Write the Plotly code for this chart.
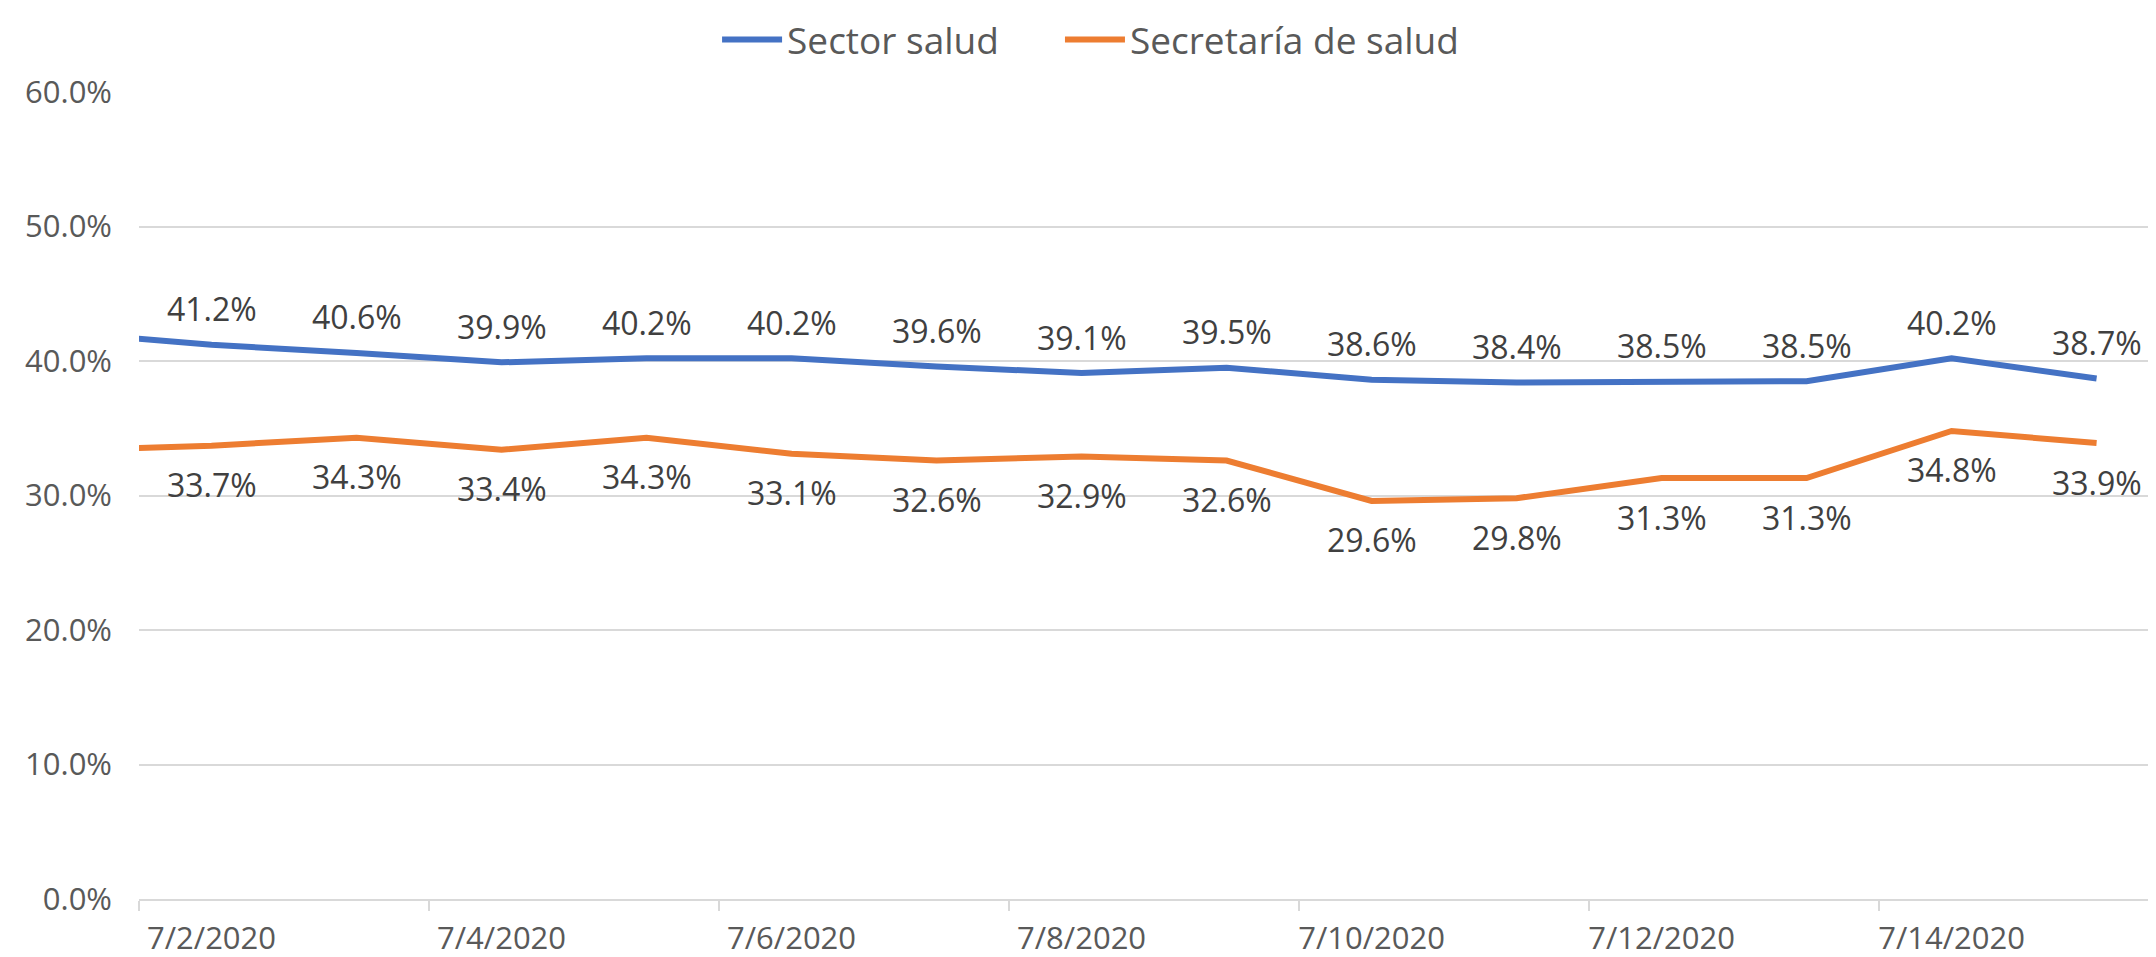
import plotly.graph_objects as go

# Dates (first point 7/1 lies just outside the visible range; its line segment is clipped)
dates = ["2020-07-01", "2020-07-02", "2020-07-03", "2020-07-04", "2020-07-05", "2020-07-06",
         "2020-07-07", "2020-07-08", "2020-07-09", "2020-07-10", "2020-07-11",
         "2020-07-12", "2020-07-13", "2020-07-14", "2020-07-15"]
sector_salud = [0.421, 0.412, 0.406, 0.399, 0.402, 0.402, 0.396, 0.391, 0.395, 0.386, 0.384,
                0.385, 0.385, 0.402, 0.387]
secretaria_salud = [0.3335, 0.337, 0.343, 0.334, 0.343, 0.331, 0.326, 0.329, 0.326, 0.296, 0.298,
                    0.313, 0.313, 0.348, 0.339]

tick_dates = ["2020-07-02", "2020-07-04", "2020-07-06", "2020-07-08", "2020-07-10",
              "2020-07-12", "2020-07-14"]
tick_labels = ["7/2/2020", "7/4/2020", "7/6/2020", "7/8/2020", "7/10/2020",
               "7/12/2020", "7/14/2020"]
boundary_ticks = ["2020-07-01 12:00", "2020-07-03 12:00", "2020-07-05 12:00", "2020-07-07 12:00",
                  "2020-07-09 12:00", "2020-07-11 12:00", "2020-07-13 12:00"]

y_ticks = [0, 0.1, 0.2, 0.3, 0.4, 0.5, 0.6]

BLUE = "#4472C4"
ORANGE = "#ED7D31"
FONT = "Open Sans"
TXT = "#595959"
LBL = "#404040"

fig = go.Figure()
fig.add_trace(go.Scatter(x=dates, y=sector_salud, mode="lines", name="Sector salud",
                         line=dict(color=BLUE, width=6), legend="legend"))
fig.add_trace(go.Scatter(x=dates, y=secretaria_salud, mode="lines", name="Secretaría de salud",
                         line=dict(color=ORANGE, width=6), legend="legend2"))

for d, v in zip(dates[1:], sector_salud[1:]):
    fig.add_annotation(x=d, y=v, text=f"{v*100:.1f}%", showarrow=False, yshift=36,
                       font=dict(family=FONT, size=32, color=LBL))
for d, v in zip(dates[1:], secretaria_salud[1:]):
    fig.add_annotation(x=d, y=v, text=f"{v*100:.1f}%", showarrow=False, yshift=-39,
                       font=dict(family=FONT, size=32, color=LBL))

leg_common = dict(orientation="h", xanchor="left", y=1.103, yanchor="top",
                  font=dict(family=FONT, size=37, color=TXT), itemwidth=60,
                  bgcolor="rgba(0,0,0,0)", borderwidth=0)

fig.update_layout(
    width=2148, height=949,
    margin=dict(l=131, r=0, t=84, b=58, autoexpand=False),
    paper_bgcolor="white", plot_bgcolor="white",
    font=dict(family=FONT, color=TXT),
    showlegend=True,
    legend=dict(x=0.2866, **leg_common),
    legend2=dict(x=0.4566, **leg_common),
)
fig.update_xaxes(
    type="date",
    range=["2020-07-01 12:00", "2020-07-15 09:50"],
    tickmode="array", tickvals=tick_dates, ticktext=tick_labels,
    ticks="", showgrid=False,
    showline=True, linecolor="#d9d9d9", linewidth=2,
    tickfont=dict(family=FONT, size=31, color=TXT),
    ticklabelstandoff=11,
    minor=dict(tickmode="array", tickvals=boundary_ticks, ticks="outside", ticklen=10,
               tickcolor="#d9d9d9", tickwidth=2, showgrid=False),
    zeroline=False,
)
fig.update_yaxes(
    range=[0, 0.6], tickmode="array", tickvals=y_ticks, tickformat=".1%",
    showgrid=True, gridcolor="#d9d9d9", gridwidth=2,
    showline=False, zeroline=False, ticks="",
    tickfont=dict(family=FONT, size=31, color=TXT),
    ticklabelstandoff=26,
)

fig.write_html("out.html")
